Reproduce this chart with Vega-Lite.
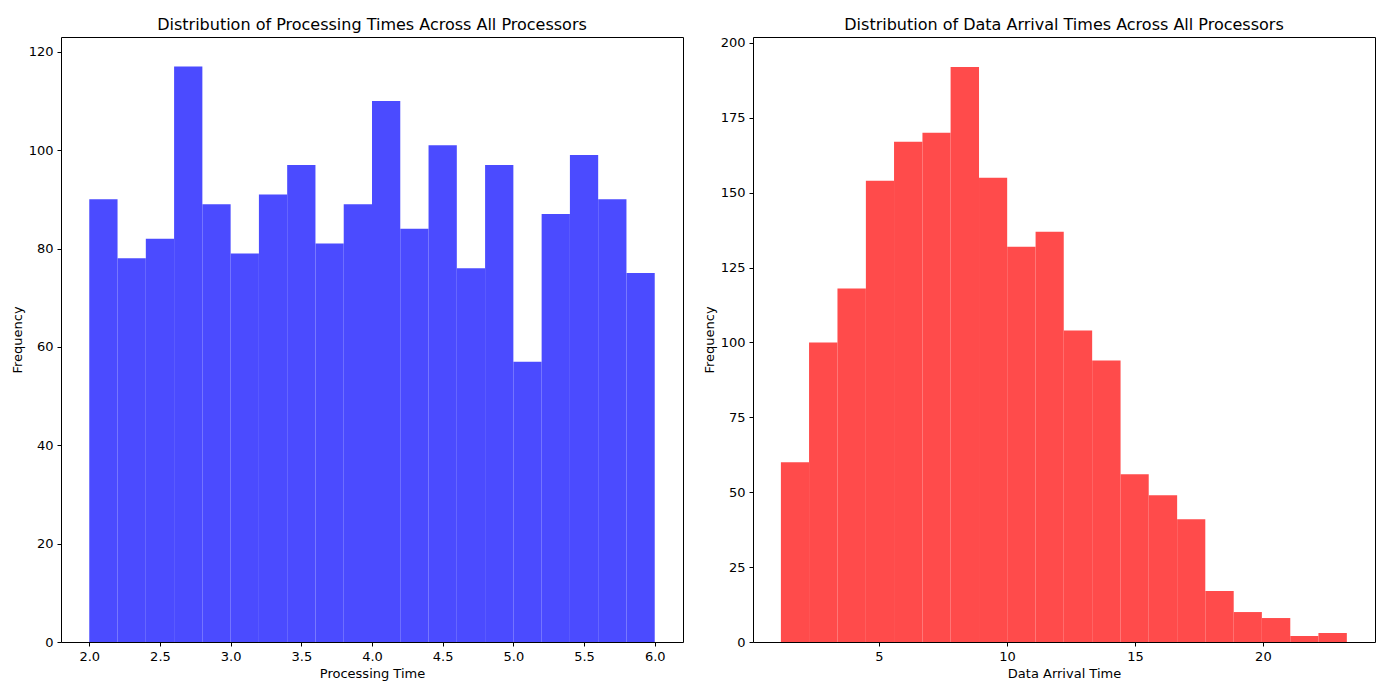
{
  "$schema": "https://vega.github.io/schema/vega-lite/v6.json",
  "padding": {"left": 10, "top": 16, "right": 10, "bottom": 5},
  "datasets": {
    "proc": [
      {"start": 2.0, "end": 2.2, "count": 90}, {"start": 2.2, "end": 2.4, "count": 78},
      {"start": 2.4, "end": 2.6, "count": 82}, {"start": 2.6, "end": 2.8, "count": 117},
      {"start": 2.8, "end": 3.0, "count": 89}, {"start": 3.0, "end": 3.2, "count": 79},
      {"start": 3.2, "end": 3.4, "count": 91}, {"start": 3.4, "end": 3.6, "count": 97},
      {"start": 3.6, "end": 3.8, "count": 81}, {"start": 3.8, "end": 4.0, "count": 89},
      {"start": 4.0, "end": 4.2, "count": 110}, {"start": 4.2, "end": 4.4, "count": 84},
      {"start": 4.4, "end": 4.6, "count": 101}, {"start": 4.6, "end": 4.8, "count": 76},
      {"start": 4.8, "end": 5.0, "count": 97}, {"start": 5.0, "end": 5.2, "count": 57},
      {"start": 5.2, "end": 5.4, "count": 87}, {"start": 5.4, "end": 5.6, "count": 99},
      {"start": 5.6, "end": 5.8, "count": 90}, {"start": 5.8, "end": 6.0, "count": 75}
    ],
    "arrival": [
      {"start": 1.17, "end": 2.27, "count": 60}, {"start": 2.27, "end": 3.38, "count": 100},
      {"start": 3.38, "end": 4.49, "count": 118}, {"start": 4.49, "end": 5.59, "count": 154},
      {"start": 5.59, "end": 6.70, "count": 167}, {"start": 6.70, "end": 7.80, "count": 170},
      {"start": 7.80, "end": 8.91, "count": 192}, {"start": 8.91, "end": 10.01, "count": 155},
      {"start": 10.01, "end": 11.12, "count": 132}, {"start": 11.12, "end": 12.22, "count": 137},
      {"start": 12.22, "end": 13.33, "count": 104}, {"start": 13.33, "end": 14.44, "count": 94},
      {"start": 14.44, "end": 15.54, "count": 56}, {"start": 15.54, "end": 16.65, "count": 49},
      {"start": 16.65, "end": 17.75, "count": 41}, {"start": 17.75, "end": 18.86, "count": 17},
      {"start": 18.86, "end": 19.96, "count": 10}, {"start": 19.96, "end": 21.07, "count": 8},
      {"start": 21.07, "end": 22.17, "count": 2}, {"start": 22.17, "end": 23.28, "count": 3}
    ]
  },
  "hconcat": [
    {
      "width": 622, "height": 605,
      "title": "Distribution of Processing Times Across All Processors",
      "data": {"name": "proc"},
      "mark": {"type": "bar", "color": "#4B4BFF"},
      "encoding": {
        "x": {"field": "start", "type": "quantitative", "title": "Processing Time",
              "scale": {"domain": [1.8, 6.2], "nice": false},
              "axis": {"values": [2.0, 2.5, 3.0, 3.5, 4.0, 4.5, 5.0, 5.5, 6.0], "format": ".1f"}},
        "x2": {"field": "end"},
        "y": {"field": "count", "type": "quantitative", "title": "Frequency",
              "scale": {"domain": [0, 123], "nice": false},
              "axis": {"values": [0, 20, 40, 60, 80, 100, 120]}},
        "y2": {"datum": 0}
      }
    },
    {
      "width": 622, "height": 605,
      "title": "Distribution of Data Arrival Times Across All Processors",
      "data": {"name": "arrival"},
      "mark": {"type": "bar", "color": "#FF4B4B"},
      "encoding": {
        "x": {"field": "start", "type": "quantitative", "title": "Data Arrival Time",
              "scale": {"domain": [0.08, 24.38], "nice": false},
              "axis": {"values": [5, 10, 15, 20]}},
        "x2": {"field": "end"},
        "y": {"field": "count", "type": "quantitative", "title": "Frequency",
              "scale": {"domain": [0, 202], "nice": false},
              "axis": {"values": [0, 25, 50, 75, 100, 125, 150, 175, 200]}},
        "y2": {"datum": 0}
      }
    }
  ],
  "spacing": 18,
  "config": {
    "font": "DejaVu Sans",
    "view": {"stroke": "black", "strokeWidth": 1},
    "title": {"fontSize": 16, "fontWeight": "normal", "color": "black"},
    "axis": {"grid": false, "domain": false, "labelFontSize": 13, "titleFontSize": 13,
             "titleFontWeight": "normal", "labelColor": "black", "titleColor": "black",
             "tickColor": "black", "tickSize": 4, "labelPadding": 4}
  }
}
